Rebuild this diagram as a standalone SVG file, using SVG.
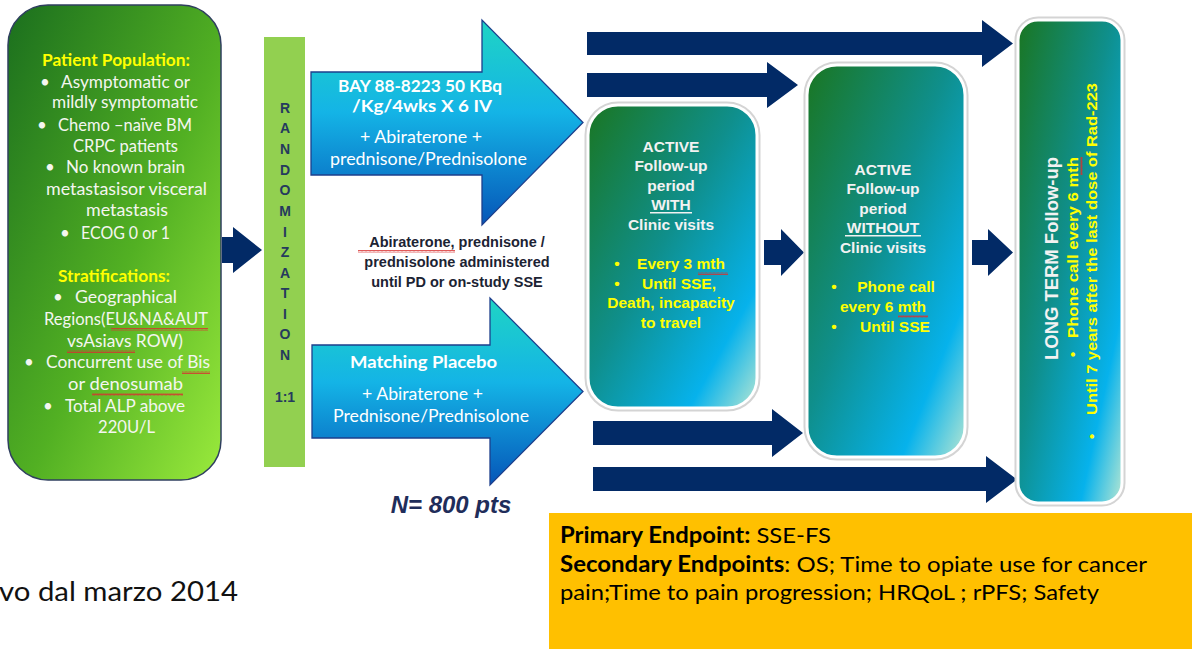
<svg xmlns="http://www.w3.org/2000/svg" width="1192" height="649" viewBox="0 0 1192 649">
<defs>
<linearGradient id="gLeft" x1="0" y1="0" x2="1" y2="1">
<stop offset="0" stop-color="#1b6f1e"/>
<stop offset="0.55" stop-color="#52b023"/>
<stop offset="1" stop-color="#9aea3c"/>
</linearGradient>
<linearGradient id="gBox" x1="0" y1="0" x2="1" y2="1">
<stop offset="0" stop-color="#1a7622"/>
<stop offset="0.45" stop-color="#0f8f8c"/>
<stop offset="0.8" stop-color="#06b2ec"/>
<stop offset="1" stop-color="#b6e6d2"/>
</linearGradient>
<linearGradient id="gBlue" x1="0" y1="0" x2="0" y2="1">
<stop offset="0" stop-color="#1fd4c4"/>
<stop offset="0.45" stop-color="#14b4e6"/>
<stop offset="1" stop-color="#0656b8"/>
</linearGradient>
<pattern id="sq" width="4" height="3" patternUnits="userSpaceOnUse">
<path d="M0,2.5 L1,0.5 L2,2.5 L3,0.5 L4,2.5" fill="none" stroke="#d83030" stroke-width="0.8"/>
</pattern>
<pattern id="sqv" width="3" height="4" patternUnits="userSpaceOnUse">
<path d="M2.5,0 L0.5,1 L2.5,2 L0.5,3 L2.5,4" fill="none" stroke="#d83030" stroke-width="0.8"/>
</pattern>
</defs>
<style>
.navy{fill:#022a66;}
.blue{fill:url(#gBlue);stroke:#1d3f8c;stroke-width:1.3;}
.lt{font-family:Lato,"Open Sans",sans-serif;}
.ar{font-family:"Liberation Sans",Arial,sans-serif;font-weight:bold;}
.wh{fill:#f4f6f0;}
.yl{fill:#ffff00;}
.bw{fill:#f2f2f2;}
.shadow{fill:none;stroke:#d4d4d4;stroke-width:7;}
.frame{fill:url(#gBox);stroke:#ffffff;stroke-width:3;}
</style>
<rect width="1192" height="649" fill="#ffffff"/>

<g id="connectors">
<path class="navy" d="M222,237 H233 V227 L262,250 L233,273 V263 H222 Z"/>
<path class="navy" d="M587,32 H982 V20 L1013,43.5 L982,67 V55 H587 Z"/>
<path class="navy" d="M587,73 H767 V62 L798,85 L767,108 V97 H587 Z"/>
<path class="navy" d="M593,421 H772 V409 L803,433 L772,457 V445 H593 Z"/>
<path class="navy" d="M593,467 H986 V456 L1017,479.5 L986,503 V491 H593 Z"/>
<path class="navy" d="M764,240 H781 V229 L804,252.5 L781,276 V265 H764 Z"/>
<path class="navy" d="M972,240 H988 V229 L1013,252.5 L988,276 V265 H972 Z"/>
</g>

<g id="population">
<rect x="8" y="5" width="213" height="475" rx="40" fill="url(#gLeft)" stroke="#2f3f5f" stroke-width="1.5"/>
<g class="lt" font-size="17" lengthAdjust="spacingAndGlyphs">
<text x="42" y="66" font-weight="bold" class="yl" textLength="148" lengthAdjust="spacingAndGlyphs">Patient Population:</text>
<g class="wh">
<text x="40" y="88">•</text><text x="61" y="88" textLength="129" lengthAdjust="spacingAndGlyphs">Asymptomatic or</text>
<text x="52" y="108" textLength="146" lengthAdjust="spacingAndGlyphs">mildly symptomatic</text>
<text x="37" y="131">•</text><text x="58" y="131" textLength="134" lengthAdjust="spacingAndGlyphs">Chemo –naïve BM</text>
<text x="73" y="152" textLength="105" lengthAdjust="spacingAndGlyphs">CRPC patients</text>
<text x="45" y="173">•</text><text x="66" y="173" textLength="119" lengthAdjust="spacingAndGlyphs">No known brain</text>
<text x="46" y="195" textLength="161" lengthAdjust="spacingAndGlyphs">metastasisor visceral</text>
<text x="86" y="216" textLength="82" lengthAdjust="spacingAndGlyphs">metastasis</text>
<text x="60" y="239">•</text><text x="81" y="239" textLength="89" lengthAdjust="spacingAndGlyphs">ECOG 0 or 1</text>
</g>
<text x="58" y="282" font-weight="bold" class="yl" textLength="112" lengthAdjust="spacingAndGlyphs">Stratifications:</text>
<g class="wh">
<text x="53" y="303">•</text><text x="75" y="303" textLength="102" lengthAdjust="spacingAndGlyphs">Geographical</text>
<text x="44" y="325" textLength="164" lengthAdjust="spacingAndGlyphs">Regions(EU&amp;NA&amp;AUT</text>
<text x="67" y="347" textLength="116" lengthAdjust="spacingAndGlyphs">vsAsiavs ROW)</text>
<text x="24" y="368">•</text><text x="46" y="368" textLength="164" lengthAdjust="spacingAndGlyphs">Concurrent use of Bis</text>
<text x="68" y="390" textLength="115" lengthAdjust="spacingAndGlyphs">or  denosumab</text>
<text x="43" y="412">•</text><text x="65" y="412" textLength="120" lengthAdjust="spacingAndGlyphs">Total ALP above</text>
<text x="98" y="433" textLength="57" lengthAdjust="spacingAndGlyphs">220U/L</text>
</g>
</g>
<rect x="111" y="328" width="97" height="3" fill="url(#sq)"/>
<rect x="67" y="350" width="68" height="3" fill="url(#sq)"/>
<rect x="182" y="371" width="28" height="3" fill="url(#sq)"/>
<rect x="92" y="393" width="91" height="3" fill="url(#sq)"/>
</g>

<g id="randomization">
<rect x="264" y="37" width="41" height="430" fill="#92d050"/>
<g class="ar" font-size="14" fill="#253a5e" text-anchor="middle">
<text x="285" y="113">R</text>
<text x="285" y="133">A</text>
<text x="285" y="154">N</text>
<text x="285" y="175">D</text>
<text x="285" y="195">O</text>
<text x="285" y="216">M</text>
<text x="285" y="237">I</text>
<text x="285" y="257">Z</text>
<text x="285" y="278">A</text>
<text x="285" y="298">T</text>
<text x="285" y="319">I</text>
<text x="285" y="339">O</text>
<text x="285" y="360">N</text>
<text x="285" y="402">1:1</text>
</g>
</g>

<g id="arm-active">
<path class="blue" d="M311,72 H482 V20 L583,122.5 L482,225 V175 H311 Z"/>
<g class="lt" font-size="17.5" fill="#ffffff">
<text x="338" y="92" font-weight="bold" textLength="164" lengthAdjust="spacingAndGlyphs">BAY 88-8223  50 KBq</text>
<text x="352" y="112" font-weight="bold" textLength="140" lengthAdjust="spacingAndGlyphs">/Kg/4wks X 6 IV</text>
<text x="360" y="143" textLength="122" lengthAdjust="spacingAndGlyphs">+ Abiraterone +</text>
<text x="330" y="165" textLength="197" lengthAdjust="spacingAndGlyphs">prednisone/Prednisolone</text>
</g>
</g>

<g id="arm-placebo">
<path class="blue" d="M312,345 H490 V298 L583,391.5 L490,485 V438 H312 Z"/>
<g class="lt" font-size="17.5" fill="#ffffff">
<text x="350" y="368" font-weight="bold" textLength="147" lengthAdjust="spacingAndGlyphs">Matching Placebo</text>
<text x="362" y="400" textLength="121" lengthAdjust="spacingAndGlyphs">+ Abiraterone +</text>
<text x="333" y="422" textLength="196" lengthAdjust="spacingAndGlyphs">Prednisone/Prednisolone</text>
</g>
</g>

<g id="note">
<g class="ar" font-size="14.5" fill="#1c2333" text-anchor="middle">
<text x="457" y="247">Abiraterone, prednisone /</text>
<text x="457" y="267">prednisolone administered</text>
<text x="457" y="287">until PD or on-study SSE</text>
</g>
<rect x="358" y="250" width="97" height="3" fill="url(#sq)"/>
</g>

<g id="n-label">
<text x="451" y="513" text-anchor="middle" class="ar" font-style="italic" font-size="24" fill="#1f2d5a">N= 800 pts</text>
</g>

<g id="followup-with">
<rect class="shadow" x="588" y="105" width="169" height="303" rx="30"/>
<rect class="frame" x="588" y="105" width="169" height="303" rx="30"/>
<g class="ar" font-size="15.5" text-anchor="middle">
<g class="bw">
<text x="671" y="152">ACTIVE</text>
<text x="671" y="171">Follow-up</text>
<text x="671" y="191">period</text>
<text x="671" y="210">WITH</text>
<text x="671" y="230">Clinic visits</text>
</g>
<g class="yl">
<text x="617" y="269">•</text><text x="681" y="269">Every 3 mth</text>
<text x="617" y="289">•</text><text x="679" y="289">Until  SSE,</text>
<text x="671" y="308">Death, incapacity</text>
<text x="671" y="328">to travel</text>
</g>
</g>
<rect x="650" y="212" width="42" height="1.5" fill="#f2f2f2"/>
<rect x="698" y="272" width="30" height="3" fill="url(#sq)"/>
</g>

<g id="followup-without">
<rect class="shadow" x="807" y="65" width="158" height="392" rx="30"/>
<rect class="frame" x="807" y="65" width="158" height="392" rx="30"/>
<g class="ar" font-size="15.5" text-anchor="middle">
<g class="bw">
<text x="883" y="175">ACTIVE</text>
<text x="883" y="194">Follow-up</text>
<text x="883" y="214">period</text>
<text x="883" y="233">WITHOUT</text>
<text x="883" y="253">Clinic visits</text>
</g>
<g class="yl">
<text x="834" y="292">•</text><text x="896" y="292">Phone call</text>
<text x="883" y="312">every 6 mth</text>
<text x="834" y="332">•</text><text x="895" y="332">Until  SSE</text>
</g>
</g>
<rect x="845" y="235" width="76" height="1.5" fill="#f2f2f2"/>
<rect x="898" y="315" width="30" height="3" fill="url(#sq)"/>
</g>

<g id="long-term">
<rect class="shadow" x="1018" y="20" width="104" height="483" rx="20"/>
<rect class="frame" x="1018" y="20" width="104" height="483" rx="20"/>
<g transform="rotate(-90)" class="ar">
<text x="-360" y="1058" font-size="17.5" fill="#f2f2f2" textLength="203" lengthAdjust="spacingAndGlyphs">LONG TERM Follow-up</text>
<text x="-357" y="1078" font-size="15" class="yl">•</text>
<text x="-338" y="1078" font-size="15" class="yl" textLength="181" lengthAdjust="spacingAndGlyphs">Phone call every 6 mth</text>
<text x="-439" y="1097" font-size="15" class="yl">•</text>
<text x="-415" y="1097" font-size="15" class="yl" textLength="332" lengthAdjust="spacingAndGlyphs">Until 7 years after the last dose of Rad-223</text>
</g>
<rect x="1080" y="157" width="3" height="18" fill="url(#sqv)"/>
</g>

<g id="endpoints">
<rect x="549" y="513" width="643" height="136" fill="#ffc000"/>
<g class="lt" font-size="22" fill="#000000">
<text x="560" y="543" textLength="271" lengthAdjust="spacingAndGlyphs"><tspan font-weight="bold">Primary Endpoint:</tspan> SSE-FS</text>
<text x="560" y="572" textLength="587" lengthAdjust="spacingAndGlyphs"><tspan font-weight="bold">Secondary Endpoints</tspan>: OS; Time to opiate use for cancer</text>
<text x="560" y="600" textLength="539" lengthAdjust="spacingAndGlyphs">pain;Time to pain progression; HRQoL ; rPFS; Safety</text>
</g>
</g>

<g id="footer">
<text x="-1" y="601" class="lt" font-size="26" fill="#111111" textLength="239" lengthAdjust="spacingAndGlyphs">vo dal marzo 2014</text>
</g>
</svg>
